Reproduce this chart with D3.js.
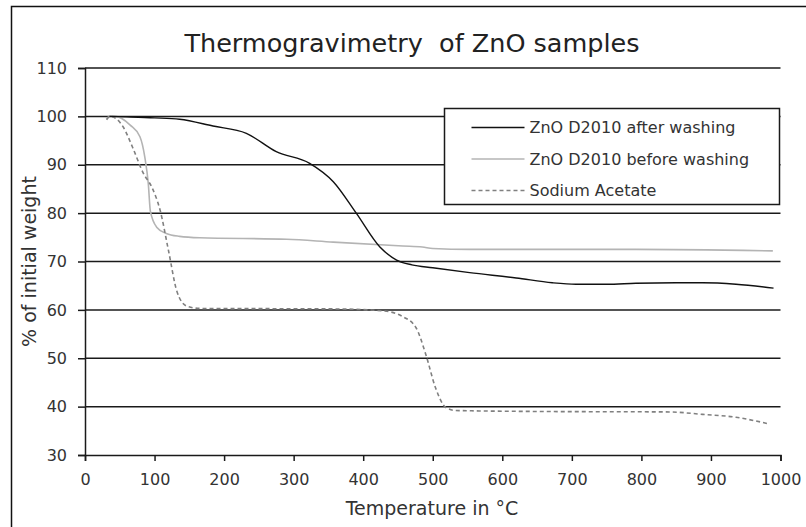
<!DOCTYPE html>
<html>
<head>
<meta charset="utf-8">
<script src="https://cdn.jsdelivr.net/npm/d3@7"></script>
<style>
  body { margin: 0; background: #fff; }
  text { font-family: "DejaVu Sans", sans-serif; fill: #333; }
</style>
</head>
<body>
<script>
// series (temperature °C, % of initial weight)
const afterTemp = [35, 60, 100, 136, 184, 232, 275, 323, 357, 390, 424, 448, 470, 500, 553, 620, 672, 706, 750, 792, 850, 888, 936, 990];
const afterWeight = [100, 99.9, 99.7, 99.4, 98.0, 96.5, 92.7, 90.3, 86.5, 80, 73, 70.3, 69.3, 68.7, 67.7, 66.6, 65.6, 65.3, 65.3, 65.5, 65.6, 65.6, 65.3, 64.5];

const beforeTemp = [30, 41, 65, 79, 86, 91, 94, 103, 117, 136, 165, 290, 357, 457, 485, 500, 553, 792, 989];
const beforeWeight = [99.6, 100.1, 98.2, 95.8, 91.6, 86.1, 80.4, 77.1, 75.8, 75.2, 74.9, 74.6, 74.0, 73.2, 73.0, 72.7, 72.5, 72.5, 72.2];

const acetateTemp = [31, 36, 55, 69, 84, 96, 108, 120, 132, 146, 165, 357, 428, 457, 476, 490, 504, 519, 533, 648, 840, 888, 936, 984];
const acetateWeight = [99.3, 100, 97.8, 93.4, 88.2, 85.4, 80.6, 72.3, 63.9, 60.8, 60.3, 60.2, 59.8, 58.6, 56.3, 50.8, 43.9, 39.8, 39.2, 39.0, 38.9, 38.4, 37.8, 36.4];

const seriesNames = ['ZnO D2010 after washing', 'ZnO D2010 before washing', 'Sodium Acetate'];
const xTicks = [0, 100, 200, 300, 400, 500, 600, 700, 800, 900, 1000];
const yTicks = [30, 40, 50, 60, 70, 80, 90, 100, 110];

const width = 806;
const height = 527;
const margin = { top: 68, right: 25, bottom: 72, left: 85 };

const styles = [
    { color: '#111', dash: null, w: 1.4 },
    { color: '#b4b4b4', dash: null, w: 1.6 },
    { color: '#808080', dash: '4,3', w: 1.6 }
];

const series = [
    afterTemp.map((t, i) => ({ t, w: afterWeight[i] })),
    beforeTemp.map((t, i) => ({ t, w: beforeWeight[i] })),
    acetateTemp.map((t, i) => ({ t, w: acetateWeight[i] }))
];

const x = d3.scaleLinear()
    .domain([0, 1000])
    .range([margin.left, width - margin.right - 0.5]);

const y = d3.scaleLinear()
    .domain([30, 110])
    .range([height - margin.bottom, margin.top]);

const svg = d3.create('svg')
    .attr('width', width)
    .attr('height', height);

// outer frame (runs off the right and bottom edge in the reference)
svg.append('rect')
    .attr('x', 11.5)
    .attr('y', 6.5)
    .attr('width', 900)
    .attr('height', 600)
    .attr('fill', 'none')
    .attr('stroke', '#111')
    .attr('stroke-width', 1.5);

svg.append('text')
    .attr('x', 412)
    .attr('y', 52)
    .attr('text-anchor', 'middle')
    .attr('font-size', 25.5)
    .style('fill', '#222')
    .style('white-space', 'pre')
    .text('Thermogravimetry  of ZnO samples');

// horizontal grid
svg.append('g')
    .selectAll('line')
    .data(yTicks.slice(1))
    .join('line')
    .attr('x1', x(0))
    .attr('x2', x(1000))
    .attr('y1', d => y(d))
    .attr('y2', d => y(d))
    .attr('stroke', '#1a1a1a')
    .attr('stroke-width', 1.5);

const x_axis = d3.axisBottom(x)
    .tickValues(xTicks)
    .tickSize(6)
    .tickPadding(13)
    .tickFormat(d3.format('d'));

const y_axis = d3.axisLeft(y)
    .tickValues(yTicks)
    .tickSize(7)
    .tickPadding(11);

const gx = svg.append('g')
    .attr('transform', `translate(0,${y(30)})`)
    .call(x_axis);

const gy = svg.append('g')
    .attr('transform', `translate(${x(0)},0)`)
    .call(y_axis);

[gx, gy].forEach(g => {
    g.select('.domain').attr('stroke', '#1a1a1a').attr('stroke-width', 1.5);
    g.selectAll('.tick line').attr('stroke', '#1a1a1a').attr('stroke-width', 1.5);
    g.selectAll('.tick text')
        .attr('font-size', 16)
        .attr('font-family', '"DejaVu Sans", sans-serif')
        .style('fill', '#333');
});

svg.append('text')
    .attr('x', 432)
    .attr('y', 515)
    .attr('text-anchor', 'middle')
    .attr('font-size', 19)
    .text('Temperature in °C');

svg.append('text')
    .attr('transform', `translate(36,${(y(30) + y(110)) / 2}) rotate(-90)`)
    .attr('text-anchor', 'middle')
    .attr('font-size', 19)
    .text('% of initial weight');

const line = d3.line()
    .x(d => x(d.t))
    .y(d => y(d.w))
    .curve(d3.curveMonotoneX);

// draw light series first so the black one sits on top
[1, 2, 0].forEach(i => {
    svg.append('path')
        .datum(series[i])
        .attr('d', line)
        .attr('fill', 'none')
        .attr('stroke', styles[i].color)
        .attr('stroke-width', styles[i].w)
        .attr('stroke-dasharray', styles[i].dash);
});

// legend
const legend = svg.append('g')
    .attr('transform', 'translate(444.5,108.5)');

legend.append('rect')
    .attr('width', 335)
    .attr('height', 96)
    .attr('fill', '#fff')
    .attr('stroke', '#1a1a1a')
    .attr('stroke-width', 1.5);

const item = legend.selectAll('g.item')
    .data(seriesNames)
    .join('g')
    .attr('class', 'item')
    .attr('transform', (d, i) => `translate(0,${19 + i * 31.5})`);

item.append('line')
    .attr('x1', 27)
    .attr('x2', 80)
    .attr('stroke', (d, i) => styles[i].color)
    .attr('stroke-width', (d, i) => styles[i].w)
    .attr('stroke-dasharray', (d, i) => styles[i].dash);

item.append('text')
    .attr('x', 85)
    .attr('dy', '0.35em')
    .attr('font-size', 16)
    .text(d => d);

document.querySelector('body').appendChild(svg.node());
</script>
</body>
</html>
